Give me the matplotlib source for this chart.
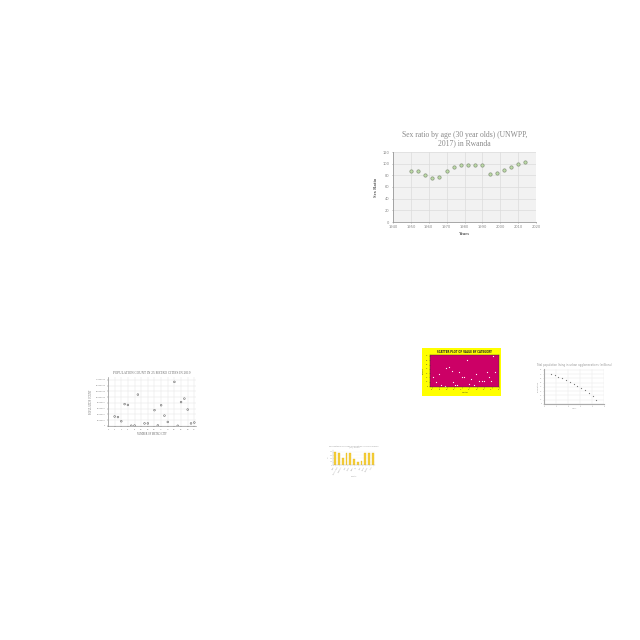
import matplotlib
matplotlib.use("Agg")
import matplotlib.pyplot as plt
from matplotlib.ticker import FormatStrFormatter

# main chart: sex ratio of 30 year olds in Rwanda
years = [1950, 1954, 1958, 1962, 1966, 1970, 1974, 1978, 1982, 1986,
         1990, 1994, 1998, 2002, 2006, 2010, 2014]
sex_ratio = [88, 88, 81, 75.5, 78, 88, 94.5, 98, 97, 97,
             97, 82.5, 83.5, 90, 95, 100, 103]

# left scatter: metro city population
city_no = [2, 3, 4, 5, 6, 7, 8, 9, 11, 12, 14, 15, 16, 17, 18, 20, 21, 22, 23, 24, 25, 26]
city_pop = [3300000, 3100000, 1650000, 7600000, 7300000, 100000, 150000, 10900000,
            900000, 900000, 5500000, 200000, 7200000, 3600000, 1400000, 15300000,
            80000, 8300000, 9500000, 5700000, 900000, 1200000]

# magenta scatter
mag_x = [0.7, 3.3, 4.9, 6.0, 8.9, 9.6, 11.8, 13.4, 14.0, 15.6, 17.2, 18.5, 20.0, 21.4,
         23.8, 25.2, 26.3, 28.3, 29.6, 31.9, 33.4, 35.2, 36.8, 38.5, 39.4, 41.2, 42.3]
mag_y = [21.5, 10.3, 28.6, 1.6, 0.5, 41, 43.8, 34, 10.3, 1.6, 1.6, 33, 21.5, 21.5,
         60, 4.8, 17.5, 1.6, 28, 12.7, 12.7, 12.7, 31.8, 21.5, 11, 69, 33]

# right scatter: falling series
fall_x = [0.61, 0.88, 1.14, 1.46, 1.81, 2.13, 2.47, 2.79, 3.09, 3.40, 3.75, 4.07, 4.34]
fall_y = [70.4, 68, 64, 60, 56, 51.2, 46.4, 42.4, 36.8, 32, 25.6, 17.6, 9.6]

# small bar chart
bar_labels = ["Benin", "Burkina Faso", "Cameroon", "Chad", "Ghana", "Kenya",
              "Mali", "Niger", "Nigeria", "Rwanda", "Togo"]
bar_vals = [40, 35, 20, 35, 35, 17, 10, 13, 35, 35, 35]

W = 640.0
fig = plt.figure(figsize=(6.4, 6.4), dpi=100)
fig.patch.set_facecolor("white")


def box(x0, y0, x1, y1):
    return fig.add_axes([x0 / W, 1 - y1 / W, (x1 - x0) / W, (y1 - y0) / W])


# ---- main chart
ax = box(393, 152, 536, 222)
ax.set_facecolor("#f2f2f2")
ax.plot(years, sex_ratio, "o", ms=2.4, mfc="#bcdca6", mec="#86937c", mew=0.5)
ax.set_xlim(1940, 2020)
ax.set_ylim(0, 120)
ax.set_xticks(range(1940, 2021, 10))
ax.set_yticks(range(0, 121, 20))
ax.grid(color="#dcdcdc", lw=0.5)
ax.set_axisbelow(True)
for s in ["top", "right"]:
    ax.spines[s].set_visible(False)
for s in ["left", "bottom"]:
    ax.spines[s].set_color("#999999")
    ax.spines[s].set_linewidth(0.6)
ax.tick_params(labelsize=2.6, colors="#888888", length=1, width=0.4, pad=1.5)
ax.set_title("Sex ratio by age (30 year olds) (UNWPP,\n2017) in Rwanda", fontsize=5.5,
             family="Liberation Serif", color="#8a8a8a", pad=5, linespacing=1.0)
ax.set_xlabel("Years", fontsize=3.3, family="Liberation Serif", weight="bold",
              color="#555555", labelpad=2)
ax.set_ylabel("Sex Ratio", fontsize=3.3, family="Liberation Serif", weight="bold",
              color="#555555", labelpad=3)

# ---- left scatter
ax = box(108, 377, 196, 426)
ax.scatter(city_no, city_pop, s=1.5, facecolors="none", edgecolors="#666666", linewidths=0.4)
ax.set_xlim(0, 26.5)
ax.set_ylim(0, 17000000)
ax.set_xticks(range(0, 27, 2))
ax.set_yticks(range(0, 16000001, 2000000))
ax.yaxis.set_major_formatter(FormatStrFormatter("%d"))
ax.grid(color="#e2e2e2", lw=0.3)
ax.set_axisbelow(True)
for s in ["top", "right"]:
    ax.spines[s].set_visible(False)
for s in ["left", "bottom"]:
    ax.spines[s].set_color("#777777")
    ax.spines[s].set_linewidth(0.4)
ax.tick_params(labelsize=1.4, colors="#777777", length=0.8, width=0.3, pad=1)
ax.set_title("POPULATION COUNT IN 25 METRO CITIES IN 2019", fontsize=2.4,
             family="Liberation Serif", color="#666666", pad=2)
ax.set_xlabel("NUMBER OF METRO CITY", fontsize=1.8, family="Liberation Serif",
              color="#666666", labelpad=1.5)
ax.set_ylabel("POPULATION COUNT", fontsize=1.8, family="Liberation Serif",
              color="#666666", labelpad=1.5)

# ---- magenta scatter on yellow panel
bg = box(422, 348, 501, 396)
bg.set_facecolor("#ffff00")
bg.set_xticks([])
bg.set_yticks([])
for s in bg.spines.values():
    s.set_visible(False)

ax = box(430, 355, 499, 387)
ax.set_facecolor("#cc0066")
ax.scatter(mag_x, mag_y, s=0.8, color="white", linewidths=0)
ax.set_xlim(-1, 45)
ax.set_ylim(-2, 72)
ax.set_xticks(range(0, 46, 5))
ax.set_yticks(range(0, 71, 10))
for s in ax.spines.values():
    s.set_color("#333333")
    s.set_linewidth(0.3)
ax.tick_params(labelsize=1.3, colors="#333333", length=0.6, width=0.3, pad=0.8)
ax.set_title("SCATTER PLOT OF VALUE BY CATEGORY", fontsize=1.8, color="#222222",
             pad=1.5, weight="bold")
ax.set_xlabel("YEAR", fontsize=1.5, color="#222222", labelpad=1)
ax.set_ylabel("VALUE", fontsize=1.5, color="#222222", labelpad=1)

# ---- right scatter
ax = box(544, 369, 604, 404)
ax.scatter(fall_x, fall_y, s=0.8, color="#777777", linewidths=0)
ax.set_xlim(0, 5)
ax.set_ylim(0, 82)
ax.set_xticks(range(0, 6))
ax.set_yticks(range(0, 81, 10))
ax.grid(color="#e6e6e6", lw=0.3)
ax.set_axisbelow(True)
for s in ["top", "right"]:
    ax.spines[s].set_visible(False)
for s in ["left", "bottom"]:
    ax.spines[s].set_color("#aaaaaa")
    ax.spines[s].set_linewidth(0.8)
ax.tick_params(labelsize=1.3, colors="#999999", length=0.6, width=0.3, pad=0.8)
ax.set_title("Total population living in urban agglomerations (millions)", fontsize=1.9,
             color="#999999", pad=2)
ax.set_xlabel("Year", fontsize=1.5, color="#999999", labelpad=1)
ax.set_ylabel("Population", fontsize=1.5, color="#999999", labelpad=1)

# ---- small bar chart
ax = box(333, 450, 375, 465)
ax.bar(range(len(bar_vals)), bar_vals, width=0.5, color="#f6cf3d", edgecolor="#e0b000",
       linewidth=0.2)
ax.set_xlim(-0.6, len(bar_vals) - 0.4)
ax.set_ylim(0, 45)
ax.set_xticks(range(len(bar_vals)))
ax.set_xticklabels(bar_labels, rotation=60, ha="right")
ax.set_yticks(range(0, 41, 10))
ax.grid(axis="y", color="#eeeeee", lw=0.2)
ax.set_axisbelow(True)
for s in ["top", "right"]:
    ax.spines[s].set_visible(False)
for s in ["left", "bottom"]:
    ax.spines[s].set_color("#bbbbbb")
    ax.spines[s].set_linewidth(0.3)
ax.tick_params(labelsize=1.0, colors="#999999", length=0.5, width=0.2, pad=0.5)
ax.set_title("Percentage of urban population living in slums\n(%), 2014", fontsize=1.5,
             color="#999999", pad=1.5, linespacing=1.1)
ax.set_xlabel("Country", fontsize=1.2, color="#999999", labelpad=1)
ax.set_ylabel("%", fontsize=1.2, color="#999999", labelpad=0.8)

fig.savefig("out.png", dpi=100)
